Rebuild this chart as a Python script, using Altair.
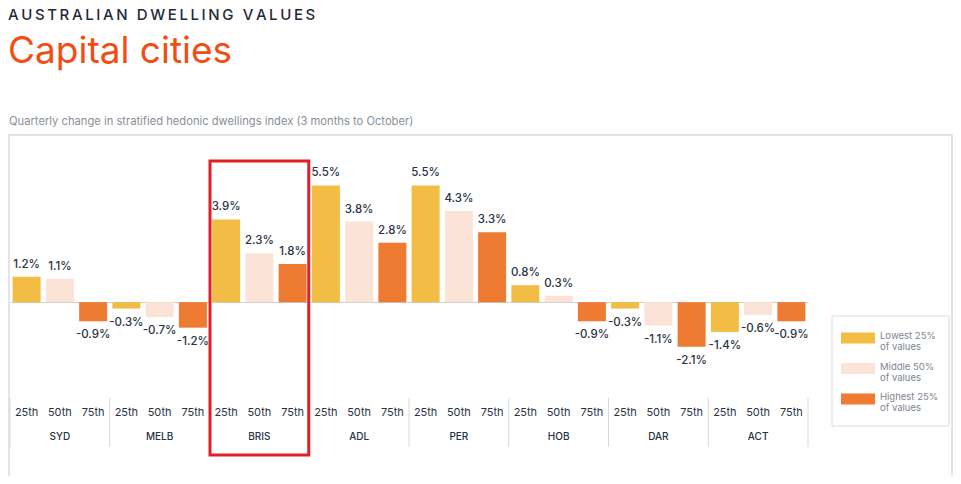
import altair as alt
import pandas as pd

cities = ["SYD", "MELB", "BRIS", "ADL", "PER", "HOB", "DAR", "ACT"]
pcts = ["25th", "50th", "75th"]
tiers = ["Lowest 25%", "Middle 50%", "Highest 25%"]
tier_colors = ["#F2BC45", "#FCE3D7", "#EF7A31"]
values = {
    "SYD": [1.2, 1.1, -0.9],
    "MELB": [-0.3, -0.7, -1.2],
    "BRIS": [3.9, 2.3, 1.8],
    "ADL": [5.5, 3.8, 2.8],
    "PER": [5.5, 4.3, 3.3],
    "HOB": [0.8, 0.3, -0.9],
    "DAR": [-0.3, -1.1, -2.1],
    "ACT": [-1.4, -0.6, -0.9],
}
highlight_city = "BRIS"

rows = []
for c in cities:
    for i, p in enumerate(pcts):
        v = values[c][i]
        rows.append({"city": c, "pct": p, "key": f"{c}|{p}", "value": v,
                     "tier": tiers[i], "label": f"{v:.1f}%"})
df = pd.DataFrame(rows)
keys = list(df["key"])

FONT = "Inter"
DARK = "#283244"
W, H = 798, 329
P_IN = 0.158
step = W / len(keys)
half_gap = step * P_IN / 2

xscale = alt.Scale(domain=keys, paddingInner=P_IN, paddingOuter=P_IN / 2)
yscale = alt.Scale(domain=[-8, 7.5], nice=False, zero=False)
cscale = alt.Scale(domain=tiers, range=tier_colors)

base = alt.Chart(df)
one = pd.DataFrame({"v": [0]})

frame = alt.Chart(one).mark_rect(fillOpacity=0, stroke="#e4e4e4", strokeWidth=2).encode(
    x=alt.value(-1), x2=alt.value(942), y=alt.value(-8), y2=alt.value(400))

bars = base.mark_bar().encode(
    x=alt.X("key:N", scale=xscale, axis=None, sort=keys),
    y=alt.Y("value:Q", scale=yscale, stack=None,
            axis=alt.Axis(values=[0], grid=True, gridColor="#cfcfcf", gridWidth=1,
                          labels=False, ticks=False, domain=False, title=None)),
    color=alt.Color("tier:N", scale=cscale, legend=None),
)

pos_lab = base.transform_filter("datum.value >= 0").mark_text(
    baseline="bottom", dy=-7, font=FONT, fontSize=11.5, fontWeight=500, color=DARK
).encode(x=alt.X("key:N", scale=xscale, sort=keys), y=alt.Y("value:Q", scale=yscale), text="label:N")

neg_lab = base.transform_filter("datum.value < 0").mark_text(
    baseline="top", dy=8, font=FONT, fontSize=11.5, fontWeight=500, color=DARK
).encode(x=alt.X("key:N", scale=xscale, sort=keys), y=alt.Y("value:Q", scale=yscale), text="label:N")

pct_lab = base.mark_text(baseline="middle", font=FONT, fontSize=11, color=DARK).encode(
    x=alt.X("key:N", scale=xscale, sort=keys), y=alt.value(270), text="pct:N")

city_lab = base.transform_filter("datum.pct == '50th'").mark_text(
    baseline="middle", font=FONT, fontSize=10, fontWeight=500, color=DARK
).encode(x=alt.X("key:N", scale=xscale, sort=keys), y=alt.value(294), text="city:N")

sep_start = base.transform_filter("datum.pct == '25th'").mark_rule(
    color="#d9d9d9", strokeWidth=1, xOffset=-half_gap
).encode(x=alt.X("key:N", scale=xscale, sort=keys, bandPosition=0), y=alt.value(255), y2=alt.value(304))

sep_end = base.transform_filter(f"datum.key == '{keys[-1]}'").mark_rule(
    color="#d9d9d9", strokeWidth=1, xOffset=half_gap
).encode(x=alt.X("key:N", scale=xscale, sort=keys, bandPosition=1), y=alt.value(255), y2=alt.value(304))

box = base.transform_filter(f"datum.key == '{highlight_city}|50th'").mark_bar(
    fillOpacity=0, stroke="#E31E26", strokeWidth=3, width=step * 3 - 1
).encode(
    x=alt.X("key:N", scale=xscale, sort=keys),
    y=alt.value(18), y2=alt.value(312))

# legend (drawn with the colour scale)
leg_frame = alt.Chart(one).mark_rect(fill="white", stroke="#dcdcdc", strokeWidth=1).encode(
    x=alt.value(822), x2=alt.value(939), y=alt.value(173), y2=alt.value(283))
leg_layers = [leg_frame]
for i, t in enumerate(tiers):
    yc = 195 + i * 30.5
    tdf = pd.DataFrame({"tier": [t], "txt": [t + "|of values"]})
    leg_layers.append(alt.Chart(tdf).mark_rect().encode(
        x=alt.value(831), x2=alt.value(865), y=alt.value(yc - 5.5), y2=alt.value(yc + 5.5),
        color=alt.Color("tier:N", scale=cscale, legend=None)))
    leg_layers.append(alt.Chart(tdf).mark_text(
        align="left", baseline="top", lineBreak="|", lineHeight=11, font=FONT,
        fontSize=9.5, color="#7d8593").encode(
        x=alt.value(870), y=alt.value(yc - 7), text="txt:N"))

head1 = alt.Chart(one).mark_text(
    align="left", baseline="top", font=FONT, fontSize=15, fontWeight=500, color="#1F2A3A",
    text="\u2009".join("AUSTRALIAN DWELLING VALUES")
).encode(x=alt.value(-2), y=alt.value(-135))

head2 = alt.Chart(one).mark_text(
    align="left", baseline="alphabetic", font=FONT, fontSize=37, fontWeight=400, color="#F04E12",
    text="Capital cities"
).encode(x=alt.value(-2), y=alt.value(-80))

head3 = alt.Chart(one).mark_text(
    align="left", baseline="middle", font=FONT, fontSize=11.2, color="#8a8f98",
    text="Quarterly change in stratified hedonic dwellings index (3 months to October)"
).encode(x=alt.value(-1), y=alt.value(-21))

chart = alt.layer(
    frame, bars, pos_lab, neg_lab, pct_lab, city_lab, sep_start, sep_end, box,
    *leg_layers, head1, head2, head3
).properties(
    width=W, height=H,
    autosize=alt.AutoSizeParams(type="none"),
    padding={"left": 2, "top": 135, "right": 145, "bottom": 4},
).configure_view(stroke=None)

chart.save("out.html", embed_options={"renderer": "svg", "actions": False})
